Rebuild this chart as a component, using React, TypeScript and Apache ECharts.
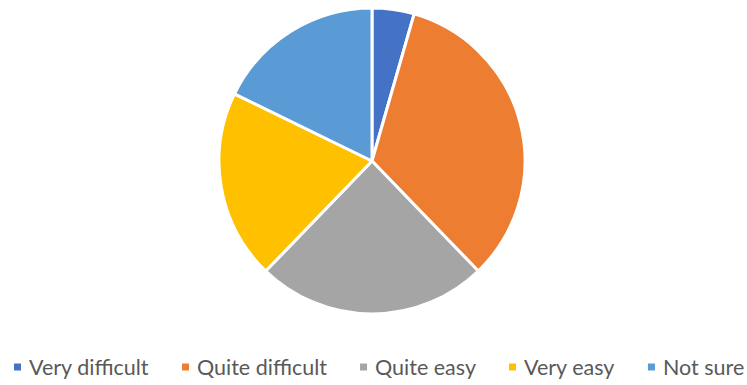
import React, { useEffect, useRef } from "react";
import * as echarts from "echarts";

const categories = ["Very difficult", "Quite difficult", "Quite easy", "Very easy", "Not sure"];
const values = [2, 15, 11, 9, 8];
const colors = ["#4472C4", "#ED7D31", "#A5A5A5", "#FFC000", "#5B9BD5"];

export default function App() {
  const ref = useRef<HTMLDivElement>(null);
  useEffect(() => {
    document.body.style.margin = "0";
    const chart = echarts.init(ref.current!, null, { renderer: "svg" });
    chart.setOption({
      animation: false,
      color: colors,
      legend: {
        data: categories,
        left: 12,
        top: 356,
        width: 745,
        padding: 0,
        icon: "rect",
        itemWidth: 9,
        itemHeight: 9,
        itemGap: 31,
        textStyle: {
          fontFamily: "Lato",
          fontSize: 21.5,
          lineHeight: 22,
          color: "#595959",
          padding: [0, 0, 0, 2],
        },
      },
      series: [
        {
          type: "pie",
          center: [372, 161],
          radius: 153,
          startAngle: 90,
          clockwise: true,
          label: { show: false },
          labelLine: { show: false },
          emphasis: { disabled: true },
          itemStyle: { borderColor: "#ffffff", borderWidth: 3 },
          data: categories.map((name, i) => ({ name, value: values[i] })),
        },
      ],
    });
    return () => chart.dispose();
  }, []);
  return <div ref={ref} style={{ width: 747, height: 385 }} />;
}
